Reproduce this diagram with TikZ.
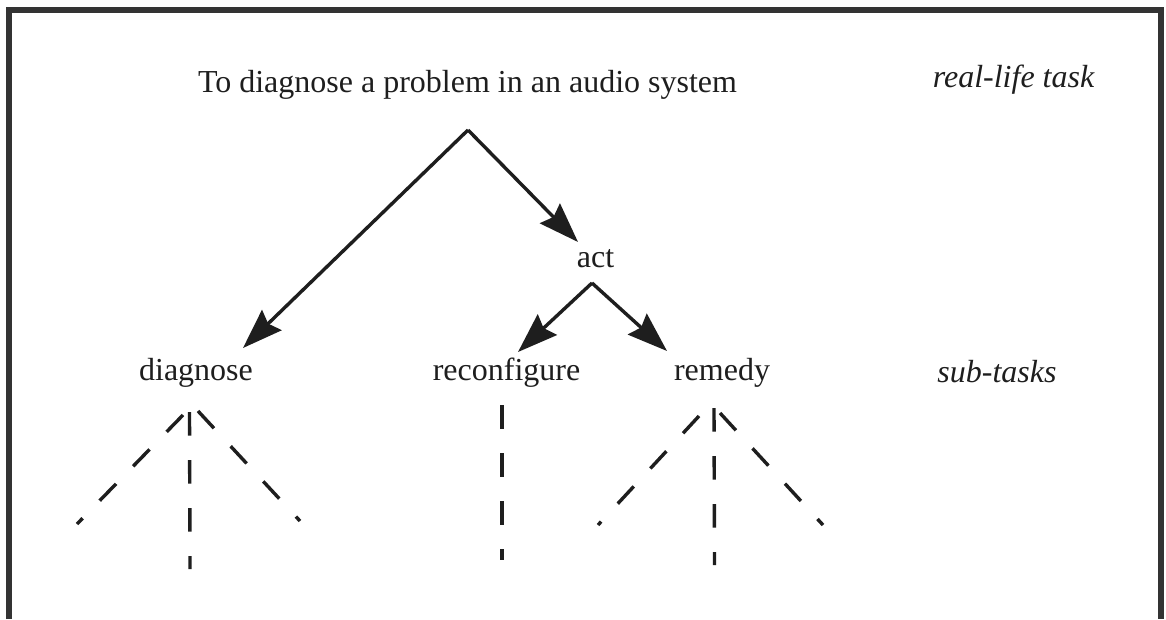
\documentclass[tikz,border=0pt]{standalone}
\usepackage{fontspec}
\setmainfont{Liberation Serif}
\usetikzlibrary{arrows.meta}
\definecolor{ink}{HTML}{1E1E1E}
\definecolor{framec}{HTML}{333333}
\begin{document}
\begin{tikzpicture}[x=1pt,y=-1pt,
  lbl/.style={font=\fontsize{32}{38}\selectfont, inner sep=0pt, anchor=base, text=ink},
  side/.style={lbl, font=\fontsize{32}{38}\selectfont\itshape},
  arr/.style={line width=3.4pt, draw=ink, -{Stealth[length=40pt,width=28pt,inset=5pt]}},
  subline/.style={line width=3.4pt, draw=ink, dash pattern=on 23.5pt off 24.5pt}]
\useasboundingbox (0,0) rectangle (1166,619);
\fill[white] (0,0) rectangle (1166,619);
% frame
\draw[framec, line width=6pt] (8.5,619) -- (8.5,9.5) -- (1160.5,9.5) -- (1160.5,619);
% labels
\node[lbl] (title) at (467.5,92) {To diagnose a problem in an audio system};
\node[side] (real) at (1013.5,87) {real-life task};
\node[lbl] (act) at (595.5,267) {act};
\node[lbl] (diagnose) at (196,380) {diagnose};
\node[lbl] (reconf) at (506.5,380) {reconfigure};
\node[lbl] (remedy) at (722,380) {remedy};
\node[side] (subt) at (997,382) {sub-tasks};
% connector points
\coordinate (top) at (468,130);
\coordinate (tipD) at (243,348);
\coordinate (tipA) at (578,242);
\coordinate (actTop) at (592,283);
\coordinate (tipR) at (518,352);
\coordinate (tipM) at (667,351);
\draw[arr] (top) -- (tipD);
\draw[arr] (top) -- (tipA);
\draw[arr] (actTop) -- (tipR);
\draw[arr] (actTop) -- (tipM);
% dashed sub-branches: diagnose
\coordinate (dL0) at (183,415); \coordinate (dL1) at (77,524);
\coordinate (dV0) at (189.5,412); \coordinate (dV1) at (190,569);
\coordinate (dR0) at (198,411); \coordinate (dR1) at (300,521);
\draw[subline] (dL0) -- (dL1);
\draw[subline] (dV0) -- (dV1);
\draw[subline] (dR0) -- (dR1);
% reconfigure
\coordinate (cV0) at (502,405); \coordinate (cV1) at (502,560);
\draw[subline] (cV0) -- (cV1);
% remedy
\coordinate (mL0) at (699,416); \coordinate (mL1) at (598,525);
\coordinate (mV0) at (714,408); \coordinate (mV1) at (714.5,565);
\coordinate (mR0) at (720,413); \coordinate (mR1) at (823,525);
\draw[subline] (mL0) -- (mL1);
\draw[subline] (mV0) -- (mV1);
\draw[subline] (mR0) -- (mR1);
\end{tikzpicture}
\end{document}
